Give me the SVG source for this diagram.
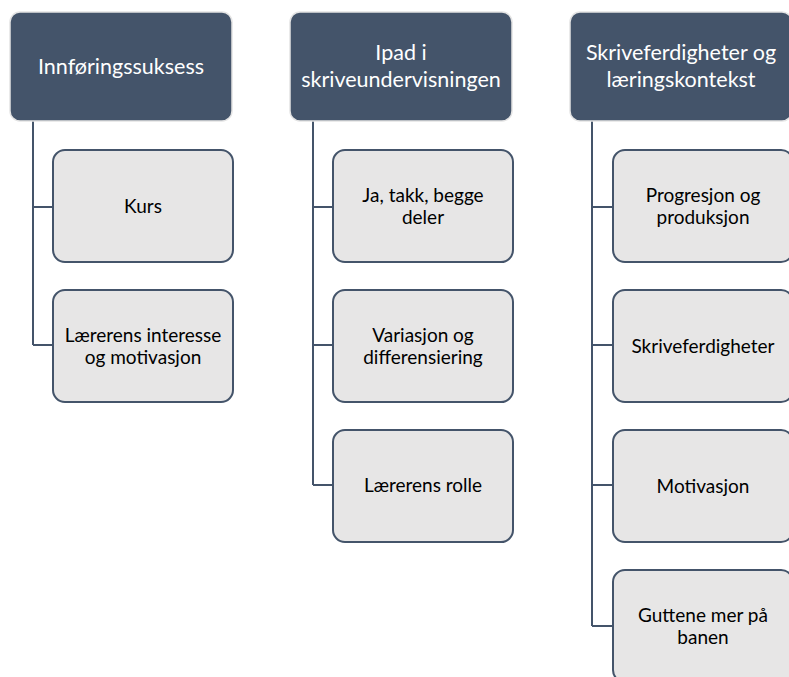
<svg xmlns="http://www.w3.org/2000/svg" width="789" height="677" viewBox="0 0 789 677">
<style>
.hdr{fill:#44546A;stroke:#E4E4E4;stroke-width:1.5}
.chd{fill:#E7E6E6;stroke:#44546A;stroke-width:2}
.ht{font-family:Lato,"Open Sans",sans-serif;font-size:21.5px;fill:#FFFFFF;text-anchor:middle}
.ct{font-family:Lato,"Open Sans",sans-serif;font-size:19px;fill:#000000;text-anchor:middle}
.cn{fill:none;stroke:#44546A;stroke-width:2}
</style>
<rect width="789" height="677" fill="#FFFFFF"/>
<g id="connectors">
<path class="cn" d="M33 121 V345 M33 207 H53 M33 345 H53"/>
<path class="cn" d="M313 121 V485 M313 207 H333 M313 345 H333 M313 485 H333"/>
<path class="cn" d="M592 121 V626 M592 207 H613 M592 345 H613 M592 485 H613 M592 626 H613"/>
</g>
<g id="h1"><rect class="hdr" x="10" y="12" width="222" height="109" rx="10"/><text class="ht" x="121" y="74">Innføringssuksess</text></g>
<g id="h2"><rect class="hdr" x="290" y="12" width="222" height="109" rx="10"/><text class="ht" x="401" y="60">Ipad i</text><text class="ht" x="401" y="87">skriveundervisningen</text></g>
<g id="h3"><rect class="hdr" x="570" y="12" width="222" height="109" rx="10"/><text class="ht" x="681" y="60">Skriveferdigheter og</text><text class="ht" x="681" y="87">læringskontekst</text></g>
<g id="c1a"><rect class="chd" x="53" y="150" width="180" height="112" rx="12"/><text class="ct" x="143" y="213">Kurs</text></g>
<g id="c1b"><rect class="chd" x="53" y="290" width="180" height="112" rx="12"/><text class="ct" x="143" y="342">Lærerens interesse</text><text class="ct" x="143" y="364">og motivasjon</text></g>
<g id="c2a"><rect class="chd" x="333" y="150" width="180" height="112" rx="12"/><text class="ct" x="423" y="202">Ja, takk, begge</text><text class="ct" x="423" y="224">deler</text></g>
<g id="c2b"><rect class="chd" x="333" y="290" width="180" height="112" rx="12"/><text class="ct" x="423" y="342">Variasjon og</text><text class="ct" x="423" y="364">differensiering</text></g>
<g id="c2c"><rect class="chd" x="333" y="430" width="180" height="112" rx="12"/><text class="ct" x="423" y="492">Lærerens rolle</text></g>
<g id="c3a"><rect class="chd" x="613" y="150" width="180" height="112" rx="12"/><text class="ct" x="703" y="202">Progresjon og</text><text class="ct" x="703" y="224">produksjon</text></g>
<g id="c3b"><rect class="chd" x="613" y="290" width="180" height="112" rx="12"/><text class="ct" x="703" y="353">Skriveferdigheter</text></g>
<g id="c3c"><rect class="chd" x="613" y="430" width="180" height="112" rx="12"/><text class="ct" x="703" y="493">Motivasjon</text></g>
<g id="c3d"><rect class="chd" x="613" y="570" width="180" height="112" rx="12"/><text class="ct" x="703" y="622">Guttene mer på</text><text class="ct" x="703" y="644">banen</text></g>
</svg>
